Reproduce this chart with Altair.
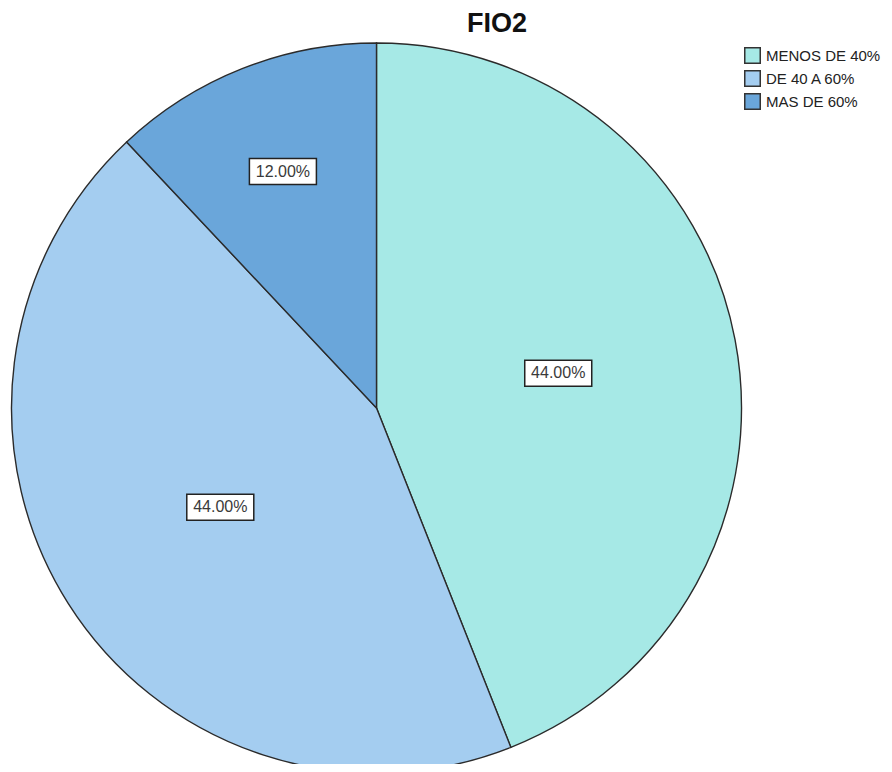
import altair as alt
import pandas as pd

# ---- data ----
categories = ["MENOS DE 40%", "DE 40 A 60%", "MAS DE 60%"]
percents = [44.0, 44.0, 12.0]
labels = ["44.00%", "44.00%", "12.00%"]
colors = ["#A6E9E6", "#A4CDF0", "#6AA6DA"]
title_text = "FIO2"

df = pd.DataFrame({
    "categoria": categories,
    "pct": percents,
    "label": labels,
    "order": list(range(len(categories))),
})

W, H = 876, 756
CX, CY, R = 368.5, 400, 365
FONT = "Liberation Sans"

base = alt.Chart(df)

pie = base.mark_arc(outerRadius=R, stroke="#2b2b2b", strokeWidth=1.4).encode(
    theta=alt.Theta("pct:Q", stack=True),
    order=alt.Order("order:Q"),
    color=alt.Color(
        "categoria:N",
        scale=alt.Scale(domain=categories, range=colors),
        legend=alt.Legend(
            title=None,
            orient="none",
            legendX=736,
            legendY=39,
            symbolType="square",
            symbolSize=240,
            symbolStrokeColor="#333333",
            symbolStrokeWidth=1.5,
            labelFont=FONT,
            labelFontSize=15,
            labelColor="#222222",
            labelOffset=5,
            labelLimit=200,
            rowPadding=0,
            padding=0,
        ),
    ),
    x=alt.value(CX),
    y=alt.value(CY),
)

lab = base.transform_joinaggregate(
    total="sum(pct)"
).transform_window(
    cum="sum(pct)", sort=[alt.SortField("order")], frame=[None, 0]
).transform_calculate(
    alpha="datum.pct / datum.total * PI",
    mid="(datum.cum - datum.pct / 2) / datum.total * 2 * PI",
).transform_calculate(
    r=f"1.07 * 2 * {R} * sin(datum.alpha) / (3 * datum.alpha)",
).transform_calculate(
    lx=f"{CX} + datum.r * sin(datum.mid)",
    ly=f"{CY} - datum.r * cos(datum.mid)",
).transform_calculate(
    x1="datum.lx - 33.5", x2="datum.lx + 33.5",
    y1="datum.ly - 13", y2="datum.ly + 13",
)

boxes = lab.mark_rect(fill="white", stroke="#222222", strokeWidth=1.5).encode(
    x=alt.X("x1:Q", scale=None, axis=None),
    x2="x2:Q",
    y=alt.Y("y1:Q", scale=None, axis=None),
    y2="y2:Q",
)

texts = lab.mark_text(font=FONT, fontSize=16, color="#3a3a3a", align="center", baseline="middle").encode(
    x=alt.X("lx:Q", scale=None, axis=None),
    y=alt.Y("ly:Q", scale=None, axis=None),
    text="label:N",
)

title = alt.Chart(pd.DataFrame({"t": [title_text]})).mark_text(
    font=FONT, fontSize=27, fontWeight="bold", color="#111111", align="center", baseline="middle"
).encode(x=alt.value(489), y=alt.value(16), text="t:N")

chart = alt.layer(pie, boxes, texts, title).properties(
    width=W, height=H, autosize=alt.AutoSizeParams(type="none"), padding=0
).configure_view(stroke=None)

chart.save("out.html", embed_options={"renderer": "svg", "actions": False})
